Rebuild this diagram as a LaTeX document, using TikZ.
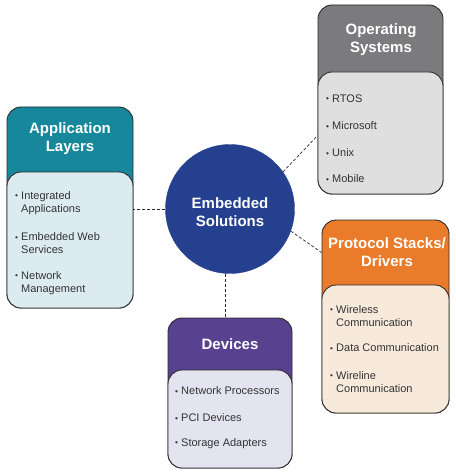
\documentclass[tikz,border=0pt]{standalone}
\usepackage{fontspec}
\setmainfont{Liberation Sans}
\usetikzlibrary{calc}
\definecolor{edge}{HTML}{2B2B2B}
\definecolor{txt}{HTML}{333333}
\definecolor{cApp}{HTML}{17879B}
\definecolor{cAppL}{HTML}{DCEBF0}
\definecolor{cOS}{HTML}{7B7B7D}
\definecolor{cOSL}{HTML}{DFDFE0}
\definecolor{cPr}{HTML}{E97B2A}
\definecolor{cPrL}{HTML}{F8EADB}
\definecolor{cDev}{HTML}{58428F}
\definecolor{cDevL}{HTML}{E4E3F0}
\definecolor{cCirc}{HTML}{25408F}
\newcommand\bul{\makebox[6pt][l]{\raisebox{0.15ex}{\scalebox{0.75}{•}}}}
\newcommand\ind{\hspace*{6pt}}
\tikzset{
  panel/.style={draw=edge, line width=0.9pt, rounded corners=14pt, inner sep=0pt},
  ttl/.style={text=white, font=\fontsize{15}{18}\selectfont\bfseries, align=center, inner sep=0pt},
  itm/.style={text=txt, font=\fontsize{11}{13}\selectfont, align=left, anchor=west, inner sep=0pt},
  conn/.style={draw=edge, line width=0.7pt, dash pattern=on 3pt off 2pt}
}
\begin{document}
\begin{tikzpicture}[x=1pt,y=-1pt]
\useasboundingbox (0,0) rectangle (455,473);
% central circle
\node[circle, fill=cCirc, draw=cCirc, minimum size=129pt, inner sep=0pt] (circ) at (230,209) {};
\node[ttl] (ctitle) at (230,212) {Embedded\\Solutions};
% Application Layers
\node[panel, fill=cApp, minimum width=126pt, minimum height=201pt] (app) at (70,207.5) {};
\node[panel, fill=cAppL, minimum width=126pt, minimum height=136pt] (appin) at (70,240) {};
\node[ttl] (apptitle) at (70,139) {Application\\Layers};
\node[itm] (a1) at (15,203.5) {\bul Integrated\\\ind Applications};
\node[itm] (a2) at (15,243.5) {\bul Embedded Web\\\ind Services};
\node[itm] (a3) at (15,283.5) {\bul Network\\\ind Management};
% Operating Systems
\node[panel, fill=cOS, minimum width=125pt, minimum height=189pt] (os) at (380.5,99.5) {};
\node[panel, fill=cOSL, minimum width=125pt, minimum height=122pt] (osin) at (380.5,133) {};
\node[ttl] (ostitle) at (381,40) {Operating\\Systems};
\node[itm] (o1) at (326,99) {\bul RTOS};
\node[itm] (o2) at (326,126) {\bul Microsoft};
\node[itm] (o3) at (326,153) {\bul Unix};
\node[itm] (o4) at (326,179) {\bul Mobile};
% Protocol Stacks
\node[panel, fill=cPr, minimum width=127pt, minimum height=193pt] (pr) at (385.5,316.5) {};
\node[panel, fill=cPrL, minimum width=127pt, minimum height=128pt] (prin) at (385.5,349) {};
\node[ttl] (prtitle) at (387,252) {Protocol Stacks/\\Drivers};
\node[itm] (p1) at (330,316) {\bul Wireless\\\ind Communication};
\node[itm] (p2) at (330,348) {\bul Data Communication};
\node[itm] (p3) at (330,382) {\bul Wireline\\\ind Communication};
% Devices
\node[panel, fill=cDev, minimum width=124pt, minimum height=150pt] (dev) at (230,393) {};
\node[panel, fill=cDevL, minimum width=124pt, minimum height=98pt] (devin) at (230,419) {};
\node[ttl] (devtitle) at (230,344) {Devices};
\node[itm] (d1) at (175,391) {\bul Network Processors};
\node[itm] (d2) at (175,418) {\bul PCI Devices};
\node[itm] (d3) at (175,444) {\bul Storage Adapters};
% connectors
\coordinate (osend) at ($(os.north west)!0.69!(os.south west)$);
\coordinate (prend) at ($(pr.north west)!0.17!(pr.south west)$);
\draw[conn] (circ.west) -- (circ.west -| app.east);
\draw[conn] (circ.266) -- (circ.266 |- dev.north);
\draw[conn] (circ.35) -- (osend);
\draw[conn] (circ.-20) -- (prend);
\end{tikzpicture}
\end{document}
